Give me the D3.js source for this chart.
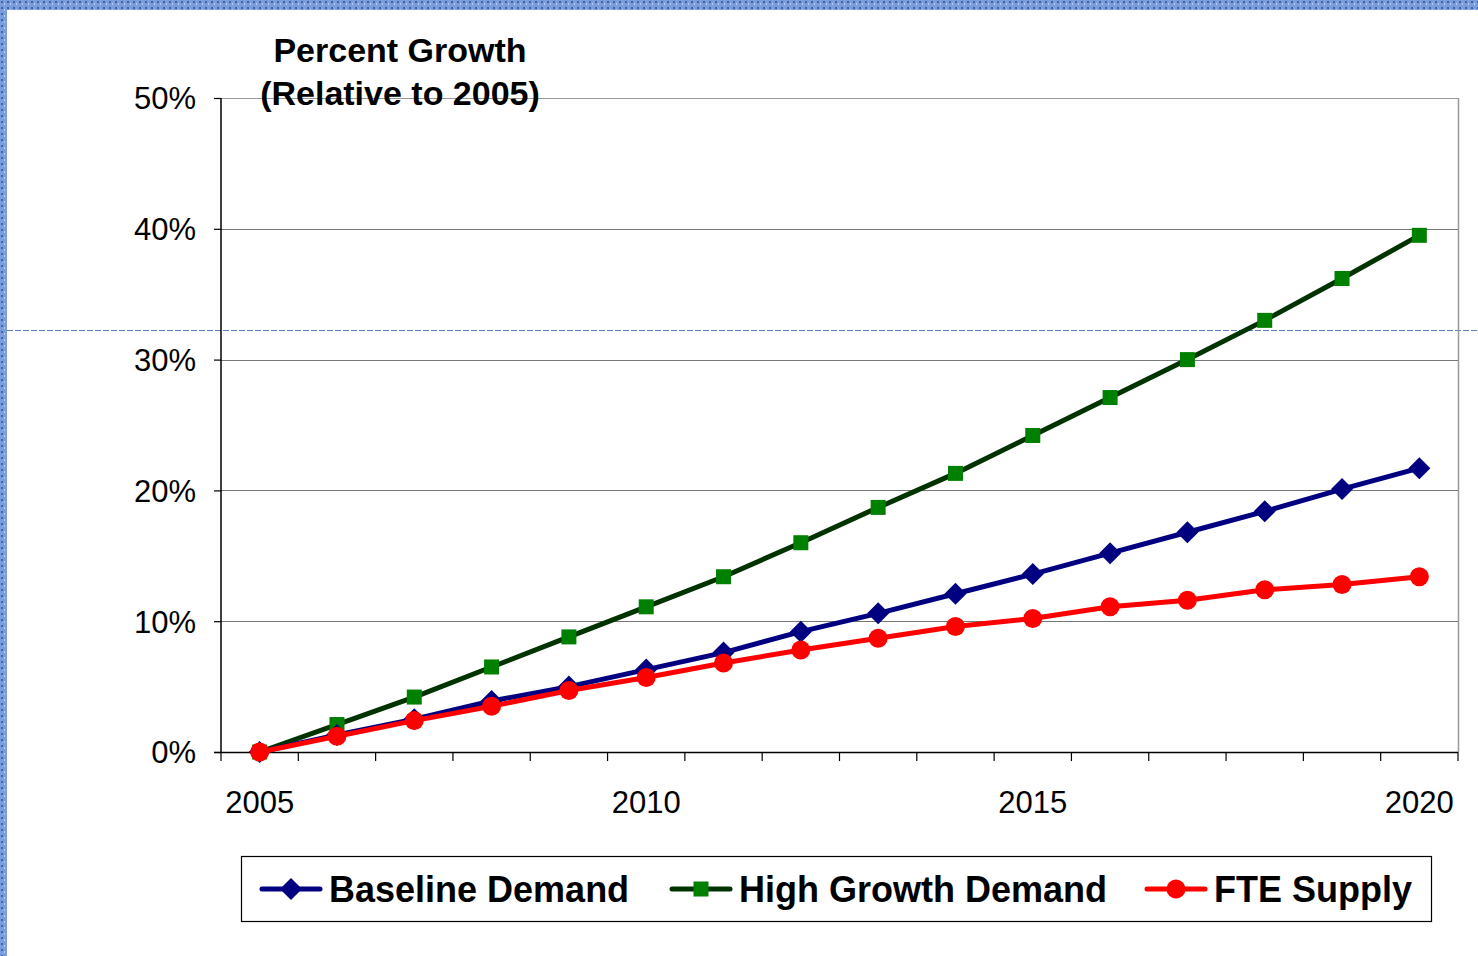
<!DOCTYPE html>
<html>
<head>
<meta charset="utf-8">
<script src="https://cdn.jsdelivr.net/npm/d3@7"></script>
<style>
  body { margin: 0; background: #fff; }
  svg { display: block; font-family: "Liberation Sans", Arial, sans-serif; }
</style>
</head>
<body>
<div id="chart"></div>
<script>
var years = [2005, 2006, 2007, 2008, 2009, 2010, 2011, 2012, 2013, 2014, 2015, 2016, 2017, 2018, 2019, 2020]
var yearLabels = [2005, 2010, 2015, 2020]
var yTicks = [0, 10, 20, 30, 40, 50]

var baseline = [0, 1.3, 2.5, 3.9, 5.0, 6.3, 7.6, 9.2, 10.6, 12.1, 13.6, 15.2, 16.8, 18.4, 20.1, 21.7]
var highGrowth = [0, 2.1, 4.2, 6.5, 8.8, 11.1, 13.4, 16.0, 18.7, 21.3, 24.2, 27.1, 30.0, 33.0, 36.2, 39.5]
var fteSupply = [0, 1.2, 2.4, 3.5, 4.7, 5.7, 6.8, 7.8, 8.7, 9.6, 10.2, 11.1, 11.6, 12.4, 12.8, 13.4]

var seriesNames = ["Baseline Demand", "High Growth Demand", "FTE Supply"]
var seriesData = [baseline, highGrowth, fteSupply]

var width = 1478, height = 956
var plotLeft = 221, plotRight = 1458, plotTop = 98, plotBottom = 752

var svg = d3.select("#chart").append("svg")
    .attr("width", width)
    .attr("height", height)

// textured blue frame on top and left
var defs = svg.append("defs")
var pat = defs.append("pattern")
    .attr("id", "tex")
    .attr("width", 6).attr("height", 6)
    .attr("patternUnits", "userSpaceOnUse")
pat.append("rect").attr("width", 6).attr("height", 6).attr("fill", "#7c9ddb")
pat.append("rect").attr("x", 1).attr("y", 1).attr("width", 2).attr("height", 2).attr("fill", "#3f63a8")
pat.append("rect").attr("x", 4).attr("y", 3).attr("width", 1).attr("height", 2).attr("fill", "#b8cdf2")

svg.append("rect").attr("x", 0).attr("y", 0).attr("width", width).attr("height", 10).attr("fill", "url(#tex)")
svg.append("rect").attr("x", 0).attr("y", 0).attr("width", 7).attr("height", height).attr("fill", "url(#tex)")

// faint dashed guide line across the slide
svg.append("line")
    .attr("x1", 7).attr("x2", width)
    .attr("y1", 330.5).attr("y2", 330.5)
    .attr("stroke", "#5b7fc0")
    .attr("stroke-width", 1)
    .attr("stroke-dasharray", "6,2")

var x = d3.scaleBand()
    .domain(years)
    .range([plotLeft, plotRight])

var y = d3.scaleLinear()
    .domain([0, 50])
    .range([plotBottom, plotTop])

// gridlines
svg.append("g")
    .selectAll("line")
    .data(yTicks.filter((d) => d > 0))
    .enter()
    .append("line")
    .attr("x1", plotLeft).attr("x2", plotRight)
    .attr("y1", (d) => Math.round(y(d)) + 0.5)
    .attr("y2", (d) => Math.round(y(d)) + 0.5)
    .attr("stroke", (d) => d === 50 ? "#999" : "#777")
    .attr("stroke-width", 1)

// right border
svg.append("line")
    .attr("x1", plotRight + 0.5).attr("x2", plotRight + 0.5)
    .attr("y1", plotTop).attr("y2", plotBottom)
    .attr("stroke", "#999").attr("stroke-width", 1.5)

// y axis
var yAxis = d3.axisLeft(y)
    .tickValues(yTicks)
    .tickFormat((d) => d + "%")
    .tickSize(7)
    .tickPadding(18)
var gy = svg.append("g")
    .attr("transform", "translate(" + plotLeft + ",0)")
    .call(yAxis)
gy.select(".domain").attr("stroke", "#000").attr("stroke-width", 1.5).attr("d", "M0," + plotTop + "V" + plotBottom)
gy.selectAll(".tick line").attr("stroke", "#000").attr("stroke-width", 1.2)
gy.selectAll(".tick text")
    .attr("font-size", 31)
    .attr("font-family", "Liberation Sans, Arial, sans-serif")
    .attr("fill", "#000")
    .attr("dy", "0.35em")

// x axis: ticks at category boundaries
var boundaries = years.map((d) => x(d)).concat([plotRight])
var gx = svg.append("g")
svg.append("line")
    .attr("x1", plotLeft - 7).attr("x2", plotRight)
    .attr("y1", plotBottom + 0.5).attr("y2", plotBottom + 0.5)
    .attr("stroke", "#000").attr("stroke-width", 1.5)
gx.selectAll("line")
    .data(boundaries)
    .enter()
    .append("line")
    .attr("x1", (d) => d).attr("x2", (d) => d)
    .attr("y1", plotBottom).attr("y2", plotBottom + 9)
    .attr("stroke", "#000").attr("stroke-width", 1.2)
gx.selectAll("text")
    .data(yearLabels)
    .enter()
    .append("text")
    .attr("x", (d) => x(d) + x.bandwidth() / 2)
    .attr("y", 813)
    .attr("text-anchor", "middle")
    .attr("font-size", 31)
    .text((d) => d)

// title
var title = svg.append("text")
    .attr("x", 400)
    .attr("text-anchor", "middle")
    .attr("font-size", 34)
    .attr("font-weight", "bold")
title.append("tspan").attr("x", 400).attr("y", 62).text("Percent Growth")
title.append("tspan").attr("x", 400).attr("y", 105).text("(Relative to 2005)")

var lineColors = ["#000080", "#003300", "#ff0000"]
var markerColors = ["#000080", "#008000", "#ff0000"]

function drawMarker(sel, k, cx, cy, s) {
    if (k === 0) {
        var d = s * 1.1
        sel.append("path")
            .attr("d", "M" + cx + "," + (cy - d) + "L" + (cx + d) + "," + cy + "L" + cx + "," + (cy + d) + "L" + (cx - d) + "," + cy + "Z")
            .attr("fill", markerColors[k])
    } else if (k === 1) {
        sel.append("rect")
            .attr("x", cx - s * 0.75).attr("y", cy - s * 0.75)
            .attr("width", s * 1.5).attr("height", s * 1.5)
            .attr("fill", markerColors[k])
    } else {
        sel.append("circle")
            .attr("cx", cx).attr("cy", cy).attr("r", s * 0.95)
            .attr("fill", markerColors[k])
    }
}

var line = d3.line()
    .x((d, i) => x(years[i]) + x.bandwidth() / 2)
    .y((d) => y(d))

var order = [1, 0, 2]
order.forEach((k) => {
    var g = svg.append("g")
    g.append("path")
        .datum(seriesData[k])
        .attr("d", line)
        .attr("fill", "none")
        .attr("stroke", lineColors[k])
        .attr("stroke-width", 5)
        .attr("stroke-linejoin", "round")
    seriesData[k].forEach((v, i) => {
        drawMarker(g, k, x(years[i]) + x.bandwidth() / 2, y(v), 10)
    })
})

// legend
svg.append("rect")
    .attr("x", 241.5).attr("y", 856.5)
    .attr("width", 1190).attr("height", 65)
    .attr("fill", "#fff")
    .attr("stroke", "#000").attr("stroke-width", 1.2)

var legendX = [262, 672, 1147]
seriesNames.forEach((name, k) => {
    var g = svg.append("g")
    var lx = legendX[k]
    g.append("line")
        .attr("x1", lx).attr("x2", lx + 58)
        .attr("y1", 889).attr("y2", 889)
        .attr("stroke", k === 1 ? lineColors[1] : markerColors[k])
        .attr("stroke-width", 5)
        .attr("stroke-linecap", "round")
    drawMarker(g, k, lx + 29, 889, 10)
    g.append("text")
        .attr("x", lx + 67)
        .attr("y", 902)
        .attr("font-size", 36)
        .attr("font-weight", "bold")
        .text(name)
})
</script>
</body>
</html>
